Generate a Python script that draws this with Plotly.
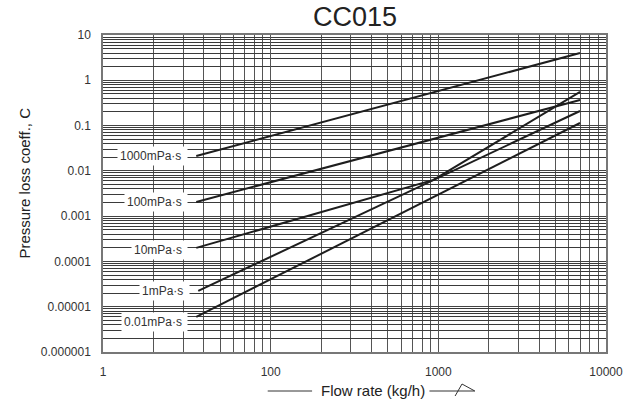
import math
import plotly.graph_objects as go

# ---- data ----
viscosity_labels = ["1000mPa·s", "100mPa·s", "10mPa·s", "1mPa·s", "0.01mPa·s"]
flow_1000 = [36, 7000]
coef_1000 = [0.0213, 4.0]
flow_100 = [36, 7000]
coef_100 = [0.00206, 0.367]
flow_10 = [36, 935, 7000]
coef_10 = [0.000199, 0.0063, 0.552]
flow_1 = [37, 7000]
coef_1 = [2.23e-5, 0.21]
flow_001 = [36, 7000]
coef_001 = [5.96e-6, 0.114]

x_tickvals = [10, 100, 1000, 10000]
x_ticktext = ["1", "100", "1000", "10000"]
y_tickvals = [1e-6, 1e-5, 1e-4, 1e-3, 1e-2, 1e-1, 1, 10]
y_ticktext = ["0.000001", "0.00001", "0.0001", "0.001", "0.01", "0.1", "1", "10"]

title_text = "CC015"
x_title = "Flow rate (kg/h)"
y_title = "Pressure loss coeff., C"

series = [
    (flow_1000, coef_1000),
    (flow_100, coef_100),
    (flow_10, coef_10),
    (flow_1, coef_1),
    (flow_001, coef_001),
]
label_yshift = [0, 0, -2, 0, -5]

FONT = "Liberation Sans, Arial, sans-serif"

fig = go.Figure()
for (xs, ys), name in zip(series, viscosity_labels):
    fig.add_trace(go.Scatter(x=xs, y=ys, mode="lines", name=name,
                             line=dict(color="#1e1e1e", width=2),
                             showlegend=False, hoverinfo="skip"))

for (xs, ys), name, ysh in zip(series, viscosity_labels, label_yshift):
    fig.add_annotation(x=math.log10(xs[0]), y=math.log10(ys[0]),
                       xref="x", yref="y",
                       xanchor="right", yanchor="middle",
                       xshift=-8, yshift=ysh,
                       text=name + "\u00a0", showarrow=False,
                       bgcolor="white", borderpad=2,
                       font=dict(family=FONT, size=12, color="#333"))

L, R, T, B = 103, 22, 35, 50
W, H = 635, 402
pw, ph = W - L - R, H - T - B

def px(xp):
    return (xp - L) / pw

def py(yp):
    return (H - B - yp) / ph

# title
fig.add_annotation(x=0.5, y=py(17), xref="paper", yref="paper",
                   xanchor="center", yanchor="middle", showarrow=False,
                   text=title_text, font=dict(family=FONT, size=27, color="#222"))
# y title
fig.add_annotation(x=px(23), y=py(183.5), xref="paper", yref="paper",
                   xanchor="center", yanchor="middle", showarrow=False,
                   textangle=-90, text=y_title,
                   font=dict(family=FONT, size=15, color="#222"))
# x title
fig.add_annotation(x=px(376.5), y=py(391), xref="paper", yref="paper",
                   xanchor="center", yanchor="middle", showarrow=False,
                   text=x_title, font=dict(family=FONT, size=15, color="#222"))
# decorative lines and half arrow around x title
line_style = dict(color="#333", width=1)
fig.add_shape(type="line", xref="paper", yref="paper",
              x0=px(270), x1=px(315), y0=py(391), y1=py(391), line=line_style)
fig.add_shape(type="line", xref="paper", yref="paper",
              x0=px(434), x1=px(480), y0=py(391), y1=py(391), line=line_style)
fig.add_shape(type="path", xref="paper", yref="paper",
              path=f"M {px(460)},{py(396)} L {px(467)},{py(384)} L {px(480)},{py(391)}",
              line=line_style)

fig.update_xaxes(type="log", range=[1, 4],
                 tickmode="array", tickvals=x_tickvals, ticktext=x_ticktext,
                 showgrid=True, gridcolor="#555", gridwidth=1,
                 minor=dict(dtick="D1", showgrid=True, gridcolor="#555", gridwidth=1),
                 showline=True, mirror=True, linecolor="#777", linewidth=1.5,
                 ticks="", ticklabelstandoff=8, zeroline=False,
                 tickfont=dict(family=FONT, size=12, color="#333"))
fig.update_yaxes(type="log", range=[-6, 1],
                 tickmode="array", tickvals=y_tickvals, ticktext=y_ticktext,
                 showgrid=True, gridcolor="#444", gridwidth=1,
                 minor=dict(dtick="D1", showgrid=True, gridcolor="#3a3a3a", gridwidth=1),
                 showline=True, mirror=True, linecolor="#777", linewidth=1.5,
                 ticks="", ticklabelstandoff=8, zeroline=False,
                 tickfont=dict(family=FONT, size=12, color="#333"))

fig.update_layout(width=W, height=H,
                  margin=dict(l=L, r=R, t=T, b=B),
                  paper_bgcolor="white", plot_bgcolor="white",
                  showlegend=False, hovermode=False)

fig.write_html("out.html", config={"displayModeBar": False},
               post_script="document.body.style.margin='0px';")
